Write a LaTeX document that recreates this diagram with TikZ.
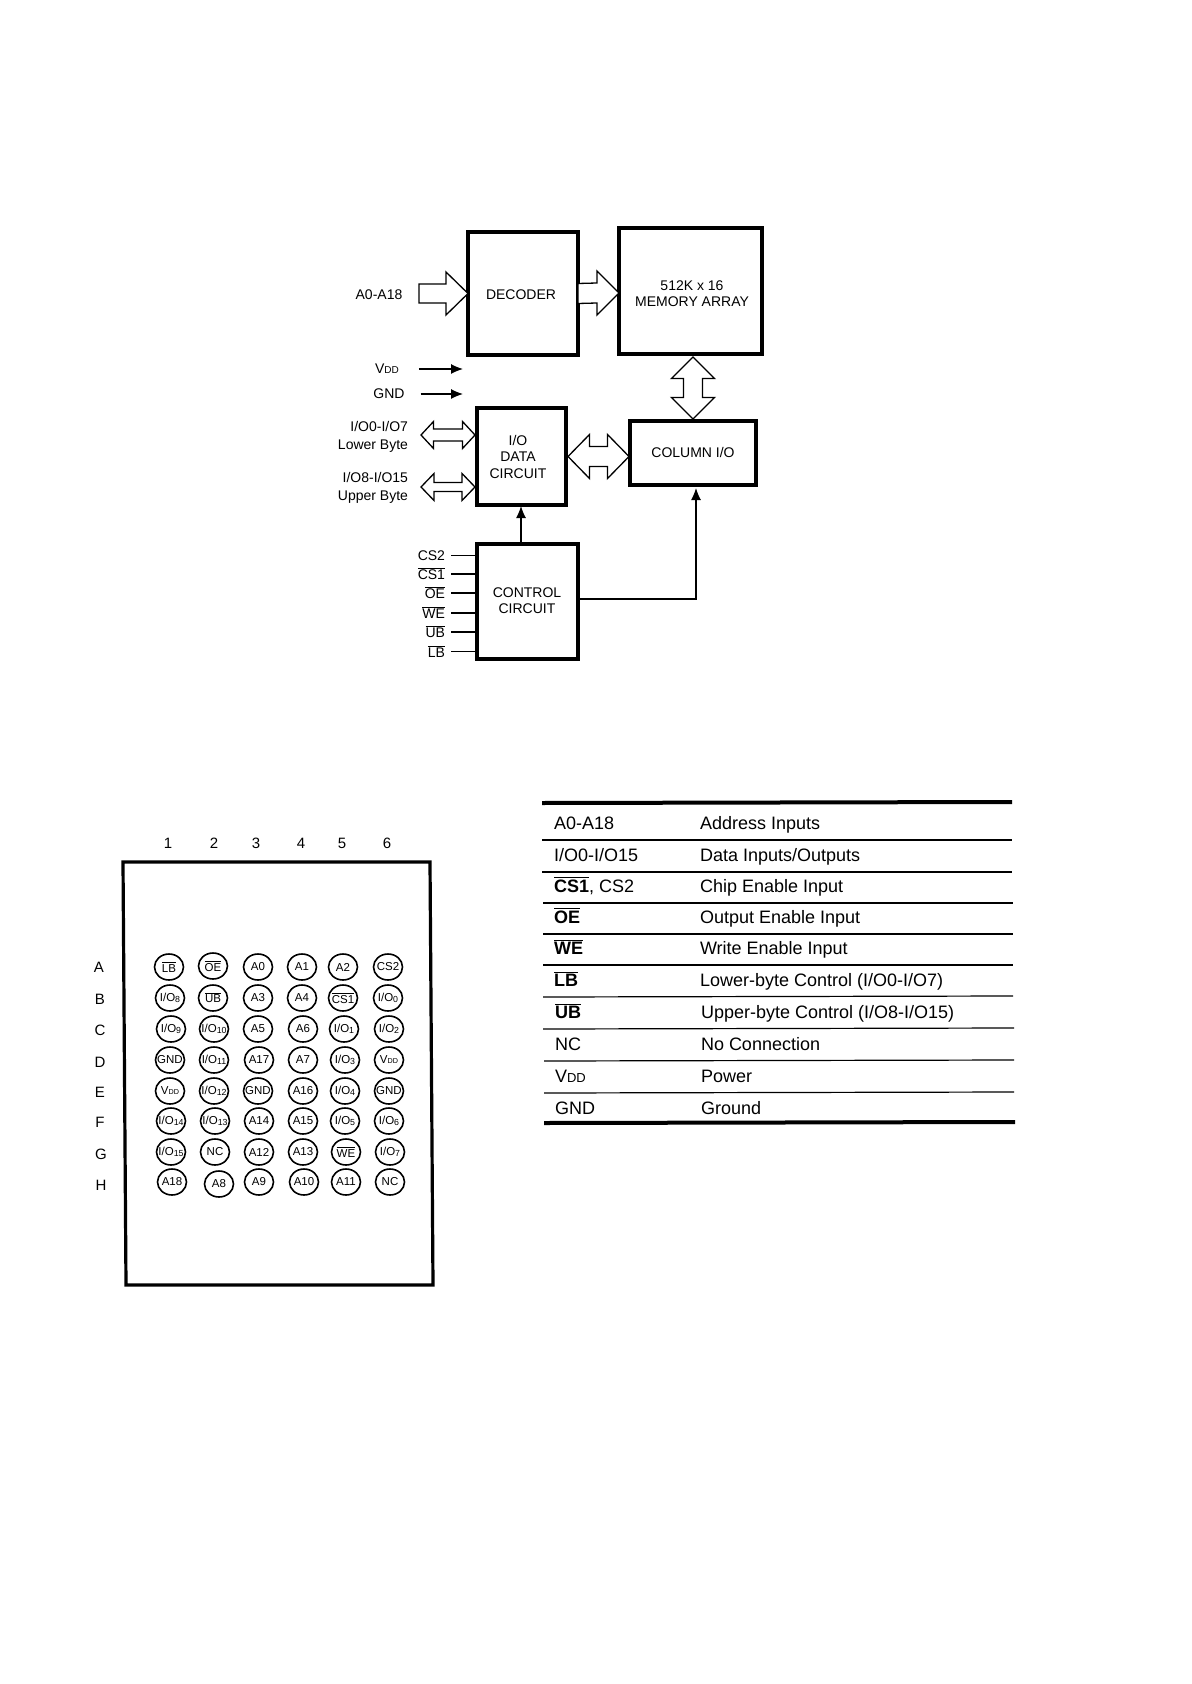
\documentclass[tikz,border=0pt]{standalone}
\usepackage{fontspec}
\setmainfont{Liberation Sans}
\usetikzlibrary{calc,arrows.meta,shapes.geometric}
\newcommand{\barred}[1]{\setbox0\hbox{#1}\rlap{\rule[\dimexpr\ht0+0.55pt\relax]{\wd0}{0.5pt}}\box0 }
\newcommand{\pinsub}[1]{\raisebox{-0.8pt}{\fontsize{4.4}{5}\selectfont #1}}
\newcommand{\pinvdd}{V{\fontsize{3.6}{4}\selectfont DD}}
\newcommand{\pin}[4]{\node[pinball] (#1) at (#2,#3) {\makebox[0pt]{#4}};}
\newcommand{\hollowdh}[5]{\draw[hollow] (#1) -- ($(#1)+(#3,#4)$) -- ($(#1)+(#3,#5)$) -- ($(#2)+(-#3,#5)$) -- ($(#2)+(-#3,#4)$) -- (#2) -- ($(#2)+(-#3,-#4)$) -- ($(#2)+(-#3,-#5)$) -- ($(#1)+(#3,-#5)$) -- ($(#1)+(#3,-#4)$) -- cycle;}
\newcommand{\hollowdv}[5]{\draw[hollow] (#1) -- ($(#1)+(#4,#3)$) -- ($(#1)+(#5,#3)$) -- ($(#2)+(#5,-#3)$) -- ($(#2)+(#4,-#3)$) -- (#2) -- ($(#2)+(-#4,-#3)$) -- ($(#2)+(-#5,-#3)$) -- ($(#1)+(-#5,#3)$) -- ($(#1)+(-#4,#3)$) -- cycle;}
\newcommand{\hollows}[5]{\draw[hollow] (#1) ++(0,-#5) -- ($(#2)+(-#3,-#5)$) -- ($(#2)+(-#3,-#4)$) -- (#2) -- ($(#2)+(-#3,#4)$) -- ($(#2)+(-#3,#5)$) -- ($(#1)+(0,#5)$) -- cycle;}
\tikzset{
  every node/.style={inner sep=0pt,outer sep=0pt,font=\fontsize{7}{8}\selectfont},
  blockbox/.style={draw,line width=1.6pt,anchor=center},
  blocktext/.style={align=center,anchor=center},
  hollow/.style={draw,fill=white,line width=0.65pt,line join=miter},
  thinarrow/.style={draw,line width=0.6pt,-{Latex[length=6pt,width=5pt]}},
  thinline/.style={draw,line width=0.6pt},
  pinball/.style={draw,ellipse,line width=0.8pt,minimum width=14.5pt,minimum height=13pt,font=\fontsize{5.75}{6}\selectfont},
  gridlabel/.style={font=\fontsize{7.5}{8}\selectfont},
  tabletext/.style={anchor=base west,yshift=-3pt,font=\fontsize{9}{10}\selectfont},
  tablerule/.style={line width=0.6pt},
  tableheavy/.style={line width=2pt},
  sidelabel/.style={anchor=east,align=right},
  sidetwo/.style={anchor=east,align=right,font=\fontsize{7}{9}\selectfont}
}
\begin{document}
\begin{tikzpicture}[x=0.5pt,y=-0.5pt]
\useasboundingbox (0,0) rectangle (1191,1684);
% ---- block diagram ----
\node[blockbox,minimum width=55pt,minimum height=61.5pt] (dec) at (523,293.5) {};
\node[blockbox,minimum width=71.5pt,minimum height=63pt] (mem) at (690.5,291) {};
\node[blockbox,minimum width=44.5pt,minimum height=48.5pt] (iod) at (521.5,456.5) {};
\node[blockbox,minimum width=63pt,minimum height=32pt] (col) at (693,453) {};
\node[blockbox,minimum width=50.5pt,minimum height=57.5pt] (ctl) at (527.5,601.5) {};
\node[blocktext] (tdec) at (521,295) {DECODER};
\node[blocktext] (tmem) at (692,293.5) {512K x 16\\MEMORY ARRAY};
\node[blocktext,font=\fontsize{7}{8.25}\selectfont] (tiod) at (518,456.5) {I/O\\DATA\\CIRCUIT};
\node[blocktext] (tcol) at (693,452) {COLUMN I/O};
\node[blocktext] (tctl) at (527,601) {CONTROL\\CIRCUIT};

\node (la0) at (379,294.5) {A0-A18};
\node (lvdd) at (387,369) {V{\fontsize{5}{6}\selectfont DD}};
\node (lgnd) at (389,394) {GND};
\node[sidetwo] (llow) at (408,437) {I/O0-I/O7\\Lower Byte};
\node[sidetwo] (lup) at (408,488) {I/O8-I/O15\\Upper Byte};

\coordinate (a0tail) at (419,293.5);
\hollows{a0tail}{dec.west}{22}{21.5}{9.5}
\coordinate (dectail) at (dec.east);
\coordinate (memtip) at ([yshift=-1pt]mem.west);
\hollows{dectail}{memtip}{22}{22}{10}
\coordinate (memb) at ([xshift=1.25pt,yshift=-1.5pt]mem.south);
\coordinate (colt) at ([yshift=1pt]col.north);
\hollowdv{memb}{colt}{21.5}{21.5}{9.5}
\coordinate (lowL) at (421,435);
\coordinate (lowR) at ([yshift=10.75pt,xshift=-1pt]iod.west);
\hollowdh{lowL}{lowR}{12.5}{13.5}{6}
\coordinate (upL) at (421,487);
\coordinate (upR) at ([yshift=-15.25pt,xshift=-1pt]iod.west);
\hollowdh{upL}{upR}{13}{13.5}{4.5}
\coordinate (ioE) at ([xshift=1pt]iod.east);
\coordinate (colW) at ([yshift=-1.75pt,xshift=-0.5pt]col.west);
\hollowdh{ioE}{colW}{21.5}{22}{10}

\coordinate (vddend) at (lvdd.east -| iod.west);
\coordinate (gndend) at (lgnd.east -| iod.west);
\draw[thinarrow,shorten <=10pt,shorten >=7pt] (lvdd.east) -- (vddend);
\draw[thinarrow,shorten <=8pt,shorten >=7pt] (lgnd.east) -- (gndend);

\draw[thinarrow,shorten >=0.5pt] ([xshift=-3.25pt]ctl.north) -- ([xshift=-0.25pt]iod.south);
\coordinate (ctlout) at ([yshift=1.25pt]ctl.east);
\coordinate (colin) at ([xshift=1.5pt]col.south);
\draw[thinarrow,shorten >=1.5pt] (ctlout) -| (colin);

\node[sidelabel] (ccs2) at (445,555.5) {CS2};
\node[sidelabel] (ccs1) at (445,574) {\barred{CS1}};
\node[sidelabel] (coe) at (445,593) {\barred{OE}};
\node[sidelabel] (cwe) at (445,613) {\barred{WE}};
\node[sidelabel] (cub) at (445,632) {\barred{UB}};
\node[sidelabel] (clb) at (445,651.5) {\barred{LB}};
\foreach \n in {ccs2,ccs1,coe,cwe,cub,clb}{
  \draw[thinline,shorten <=3pt] (\n.east) -- (\n.east -| ctl.west);
}

% ---- pin grid ----
\draw[line width=1.6pt,line join=miter] (123,862) -- (430,862) -- (433,1285) -- (126,1285) -- cycle;
\foreach \t/\x in {1/168,2/214,3/256,4/301,5/342,6/387}{
  \node[gridlabel] (col\t) at (\x,843) {\t};
}
\foreach \t/\x/\y in {A/99/967,B/100/999,C/100/1030,D/100/1062,E/100/1092,F/100/1122,G/101/1154,H/101/1185}{
  \node[gridlabel] (row\t) at (\x,\y) {\t};
}
\pin{a1}{169}{967}{\barred{LB}}
\pin{a2}{213}{966}{\barred{OE}}
\pin{a3}{258}{967}{A0}
\pin{a4}{302}{967}{A1}
\pin{a5}{343}{967}{A2}
\pin{a6}{388}{967}{CS2}
\pin{b1}{170}{998}{I/O\pinsub{8}}
\pin{b2}{213}{998}{\barred{UB}}
\pin{b3}{258}{998}{A3}
\pin{b4}{302}{998}{A4}
\pin{b5}{343}{998}{\barred{CS1}}
\pin{b6}{388}{998}{I/O\pinsub{0}}
\pin{c1}{171}{1029}{I/O\pinsub{9}}
\pin{c2}{214}{1029}{I/O\pinsub{10}}
\pin{c3}{258}{1029}{A5}
\pin{c4}{303}{1029}{A6}
\pin{c5}{344}{1029}{I/O\pinsub{1}}
\pin{c6}{389}{1029}{I/O\pinsub{2}}
\pin{d1}{170}{1060}{GND}
\pin{d2}{214}{1060}{I/O\pinsub{11}}
\pin{d3}{259}{1060}{A17}
\pin{d4}{303}{1060}{A7}
\pin{d5}{345}{1060}{I/O\pinsub{3}}
\pin{d6}{389}{1060}{\pinvdd}
\pin{e1}{170}{1091}{\pinvdd}
\pin{e2}{214}{1091}{I/O\pinsub{12}}
\pin{e3}{258}{1091}{GND}
\pin{e4}{303}{1091}{A16}
\pin{e5}{345}{1091}{I/O\pinsub{4}}
\pin{e6}{389}{1091}{GND}
\pin{f1}{171}{1121}{I/O\pinsub{14}}
\pin{f2}{215}{1121}{I/O\pinsub{13}}
\pin{f3}{259}{1121}{A14}
\pin{f4}{303}{1121}{A15}
\pin{f5}{345}{1121}{I/O\pinsub{5}}
\pin{f6}{389}{1121}{I/O\pinsub{6}}
\pin{g1}{171}{1152}{I/O\pinsub{15}}
\pin{g2}{215}{1152}{NC}
\pin{g3}{259}{1152}{A12}
\pin{g4}{303}{1152}{A13}
\pin{g5}{346}{1152}{\barred{WE}}
\pin{g6}{390}{1152}{I/O\pinsub{7}}
\pin{h1}{172}{1182}{A18}
\pin{h2}{219}{1184}{A8}
\pin{h3}{259}{1182}{A9}
\pin{h4}{304}{1182}{A10}
\pin{h5}{346}{1182}{A11}
\pin{h6}{390}{1182}{NC}

% ---- pin table ----
\draw[tableheavy] (542,803) -- (1012,802);
\draw[tablerule] (542,840) -- (1012,840);
\draw[tablerule] (542,872) -- (1012,872);
\draw[tablerule] (543,903) -- (1013,903);
\draw[tablerule] (543,934) -- (1013,934);
\draw[tablerule] (543,965) -- (1013,965);
\draw[tablerule] (543,997) -- (1013,996);
\draw[tablerule] (543,1029) -- (1014,1028);
\draw[tablerule] (544,1061) -- (1014,1060);
\draw[tablerule] (544,1093) -- (1014,1092);
\draw[tableheavy] (544,1123) -- (1015,1122);

\node[tabletext] (t1a) at (554,823) {A0-A18};
\node[tabletext] (t1b) at (700,823) {Address  Inputs};
\node[tabletext] (t2a) at (554,855) {I/O0-I/O15};
\node[tabletext] (t2b) at (700,855) {Data Inputs/Outputs};
\node[tabletext] (t3a) at (554,886) {\barred{\textbf{CS1}}, CS2};
\node[tabletext] (t3b) at (700,886) {Chip Enable Input};
\node[tabletext] (t4a) at (554,917) {\barred{\textbf{OE}}};
\node[tabletext] (t4b) at (700,917) {Output Enable Input};
\node[tabletext] (t5a) at (554,948) {\barred{\textbf{WE}}};
\node[tabletext] (t5b) at (700,948) {Write Enable Input};
\node[tabletext] (t6a) at (554,980) {\barred{\textbf{LB}}};
\node[tabletext] (t6b) at (700,980) {Lower-byte Control (I/O0-I/O7)};
\node[tabletext] (t7a) at (555,1012) {\barred{\textbf{UB}}};
\node[tabletext] (t7b) at (701,1012) {Upper-byte Control (I/O8-I/O15)};
\node[tabletext] (t8a) at (555,1044) {NC};
\node[tabletext] (t8b) at (701,1044) {No Connection};
\node[tabletext] (t9a) at (555,1076) {V{\fontsize{6.5}{7}\selectfont DD}};
\node[tabletext] (t9b) at (701,1076) {Power};
\node[tabletext] (t10a) at (555,1108) {GND};
\node[tabletext] (t10b) at (701,1108) {Ground};
\end{tikzpicture}
\end{document}
